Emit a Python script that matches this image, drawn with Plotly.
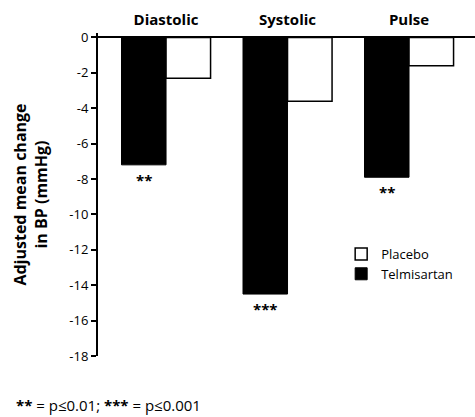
import plotly.graph_objects as go

categories = ["Diastolic", "Systolic", "Pulse"]
telmisartan = [-7.2, -14.5, -7.9]
placebo = [-2.3, -3.6, -1.6]
significance = ["**", "***", "**"]
y_tick_vals = [0, -2, -4, -6, -8, -10, -12, -14, -16, -18]
y_tick_text = ["0", "-2", "-4", "-6", "-8", "-10", "-12", "-14", "-16", "-18"]

FONT = "Open Sans"

fig = go.Figure()
fig.add_trace(go.Bar(
    name="Telmisartan", x=categories, y=telmisartan,
    marker=dict(color="black", line=dict(color="black", width=1)),
))
fig.add_trace(go.Bar(
    name="Placebo", x=categories, y=placebo,
    marker=dict(color="white", line=dict(color="black", width=1.5)),
))

for cat, val, sig in zip(categories, telmisartan, significance):
    fig.add_annotation(
        x=cat, y=val, text="<b>" + sig + "</b>", showarrow=False,
        xshift=-22, yshift=-3, yanchor="top",
        font=dict(family=FONT, size=15, color="black"),
    )

fig.add_annotation(
    xref="paper", yref="paper", x=-0.222, y=-0.152,
    xanchor="left", yanchor="middle", showarrow=False,
    text="<b>**</b> = p≤0.01; <b>***</b> = p≤0.001",
    font=dict(family=FONT, size=15, color="black"),
)

fig.update_layout(
    width=475, height=417,
    margin=dict(l=98, r=0, t=33, b=61),
    paper_bgcolor="white", plot_bgcolor="white",
    barmode="group", bargap=0.267, bargroupgap=0,
    font=dict(family=FONT, color="black"),
    showlegend=True,
    legend=dict(
        x=0.645, y=0.285, xanchor="left", yanchor="middle",
        traceorder="reversed", font=dict(family=FONT, size=13, color="black"),
        bgcolor="rgba(0,0,0,0)", itemwidth=30, tracegroupgap=0,
    ),
    xaxis=dict(
        side="top", range=[-0.56, 2.543], showline=False, ticks="",
        showgrid=False, zeroline=False, fixedrange=True,
        tickfont=dict(family=FONT, size=15, color="black", weight="bold"),
        ticklabelstandoff=4,
    ),
    yaxis=dict(
        range=[-18, 0.25], tickvals=y_tick_vals, ticktext=y_tick_text,
        showline=True, linecolor="black", linewidth=2, fixedrange=True,
        ticks="outside", ticklen=5, tickwidth=2, tickcolor="black",
        showgrid=False, zeroline=True, zerolinecolor="black", zerolinewidth=2,
        tickfont=dict(family=FONT, size=13, color="black"),
        title=dict(text="<b>Adjusted mean change<br>in BP (mmHg)</b>",
                   font=dict(family=FONT, size=16, color="black"), standoff=18),
    ),
)

fig.write_html("out.html", config={"displayModeBar": False},
               post_script="document.body.style.margin='0';")
